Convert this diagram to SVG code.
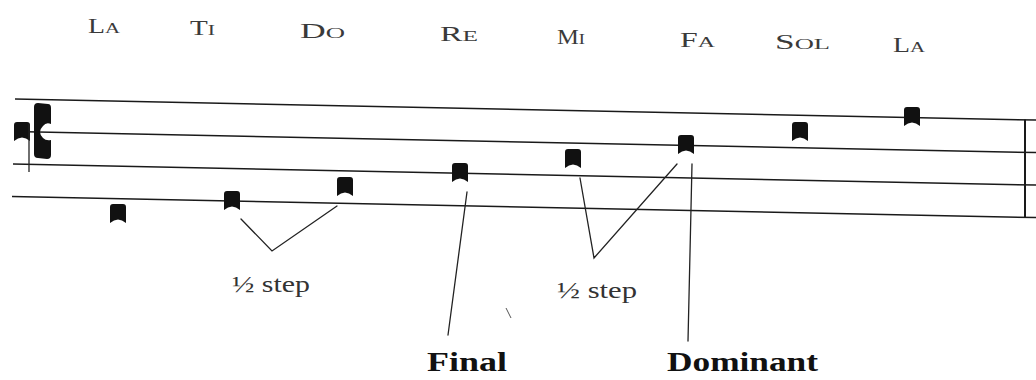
<svg xmlns="http://www.w3.org/2000/svg" width="1036" height="380" viewBox="0 0 1036 380">
<style>
.staff{stroke:#1a1a1a;stroke-width:1.5;fill:none}
.conn{stroke:#222;stroke-width:1.3;fill:none;stroke-linecap:round;stroke-linejoin:miter}
.lbl{font-family:"Liberation Serif",serif;font-size:20px;fill:#3a3a3a}
.sc{font-size:15px}
.half{font-family:"Liberation Serif",serif;font-size:24px;fill:#333}
.big{font-family:"Liberation Serif",serif;font-size:27px;font-weight:bold;fill:#111}
.note{fill:#111}
</style>
<defs>
<path id="punctum" d="M0,3 Q0,0 3,0 H13 Q16,0 16,3 V19 Q12,15.5 8,15.5 Q4,15.5 0,19 Z"/>
</defs>
<rect width="1036" height="380" fill="#fff"/>
<g id="staff">
<line class="staff" x1="15" y1="99" x2="1036" y2="120.1"/>
<line class="staff" x1="14" y1="131.5" x2="1036" y2="152.6"/>
<line class="staff" x1="13" y1="164" x2="1036" y2="185.1"/>
<line class="staff" x1="12" y1="196.5" x2="1036" y2="217.6"/>
<line x1="1025" y1="119.5" x2="1025" y2="217.5" stroke="#1a1a1a" stroke-width="2"/>
</g>
<g id="clef">
<use href="#punctum" class="note" x="14" y="122"/>
<line x1="29" y1="124" x2="29" y2="172" stroke="#222" stroke-width="1.3"/>
<path class="note" d="M34,107 Q34,103 38,103 L48,104 Q51,104 51,108 L51,124 Q46,122 43,126 Q40,129 40,132 Q40,135 43,138 Q46,141 51,140 L51,155 Q51,159 47,159 L38,158 Q34,158 34,154 Z"/>
</g>
<g id="labels">
<text class="lbl" x="88" y="33" textLength="32" lengthAdjust="spacingAndGlyphs">L<tspan class="sc">A</tspan></text>
<text class="lbl" x="190" y="35" textLength="25" lengthAdjust="spacingAndGlyphs">T<tspan class="sc">I</tspan></text>
<text class="lbl" x="300" y="38" textLength="45" lengthAdjust="spacingAndGlyphs">D<tspan class="sc">O</tspan></text>
<text class="lbl" x="440" y="41" textLength="38" lengthAdjust="spacingAndGlyphs">R<tspan class="sc">E</tspan></text>
<text class="lbl" x="557" y="44" textLength="28" lengthAdjust="spacingAndGlyphs">M<tspan class="sc">I</tspan></text>
<text class="lbl" x="680" y="46.5" textLength="35" lengthAdjust="spacingAndGlyphs">F<tspan class="sc">A</tspan></text>
<text class="lbl" x="775" y="49" textLength="55" lengthAdjust="spacingAndGlyphs">S<tspan class="sc">OL</tspan></text>
<text class="lbl" x="893" y="52" textLength="32" lengthAdjust="spacingAndGlyphs">L<tspan class="sc">A</tspan></text>
</g>
<g id="n-la1"><use href="#punctum" class="note" x="110" y="204"/></g>
<g id="n-ti"><use href="#punctum" class="note" x="224" y="191"/></g>
<g id="n-do"><use href="#punctum" class="note" x="337" y="177"/></g>
<g id="n-re"><use href="#punctum" class="note" x="452" y="163"/></g>
<g id="n-mi"><use href="#punctum" class="note" x="565" y="149"/></g>
<g id="n-fa"><use href="#punctum" class="note" x="678" y="135"/></g>
<g id="n-sol"><use href="#punctum" class="note" x="792" y="122"/></g>
<g id="n-la2"><use href="#punctum" class="note" x="904" y="107"/></g>
<g id="connectors">
<polyline class="conn" points="241,219 272,251 337,206"/>
<polyline class="conn" points="580,178 594,258 677,164"/>
<line class="conn" x1="467" y1="192" x2="448" y2="335"/>
<line class="conn" x1="692" y1="164" x2="688" y2="341"/>
<line x1="506" y1="308" x2="511" y2="318" stroke="#555" stroke-width="1"/>
</g>
<g id="half1"><text class="half" x="232" y="292" textLength="78" lengthAdjust="spacingAndGlyphs">½ step</text></g>
<g id="half2"><text class="half" x="557" y="298" textLength="80" lengthAdjust="spacingAndGlyphs">½ step</text></g>
<g id="final"><text class="big" x="427" y="371" textLength="80" lengthAdjust="spacingAndGlyphs">Final</text></g>
<g id="dominant"><text class="big" x="667" y="371" textLength="151" lengthAdjust="spacingAndGlyphs">Dominant</text></g>
</svg>
